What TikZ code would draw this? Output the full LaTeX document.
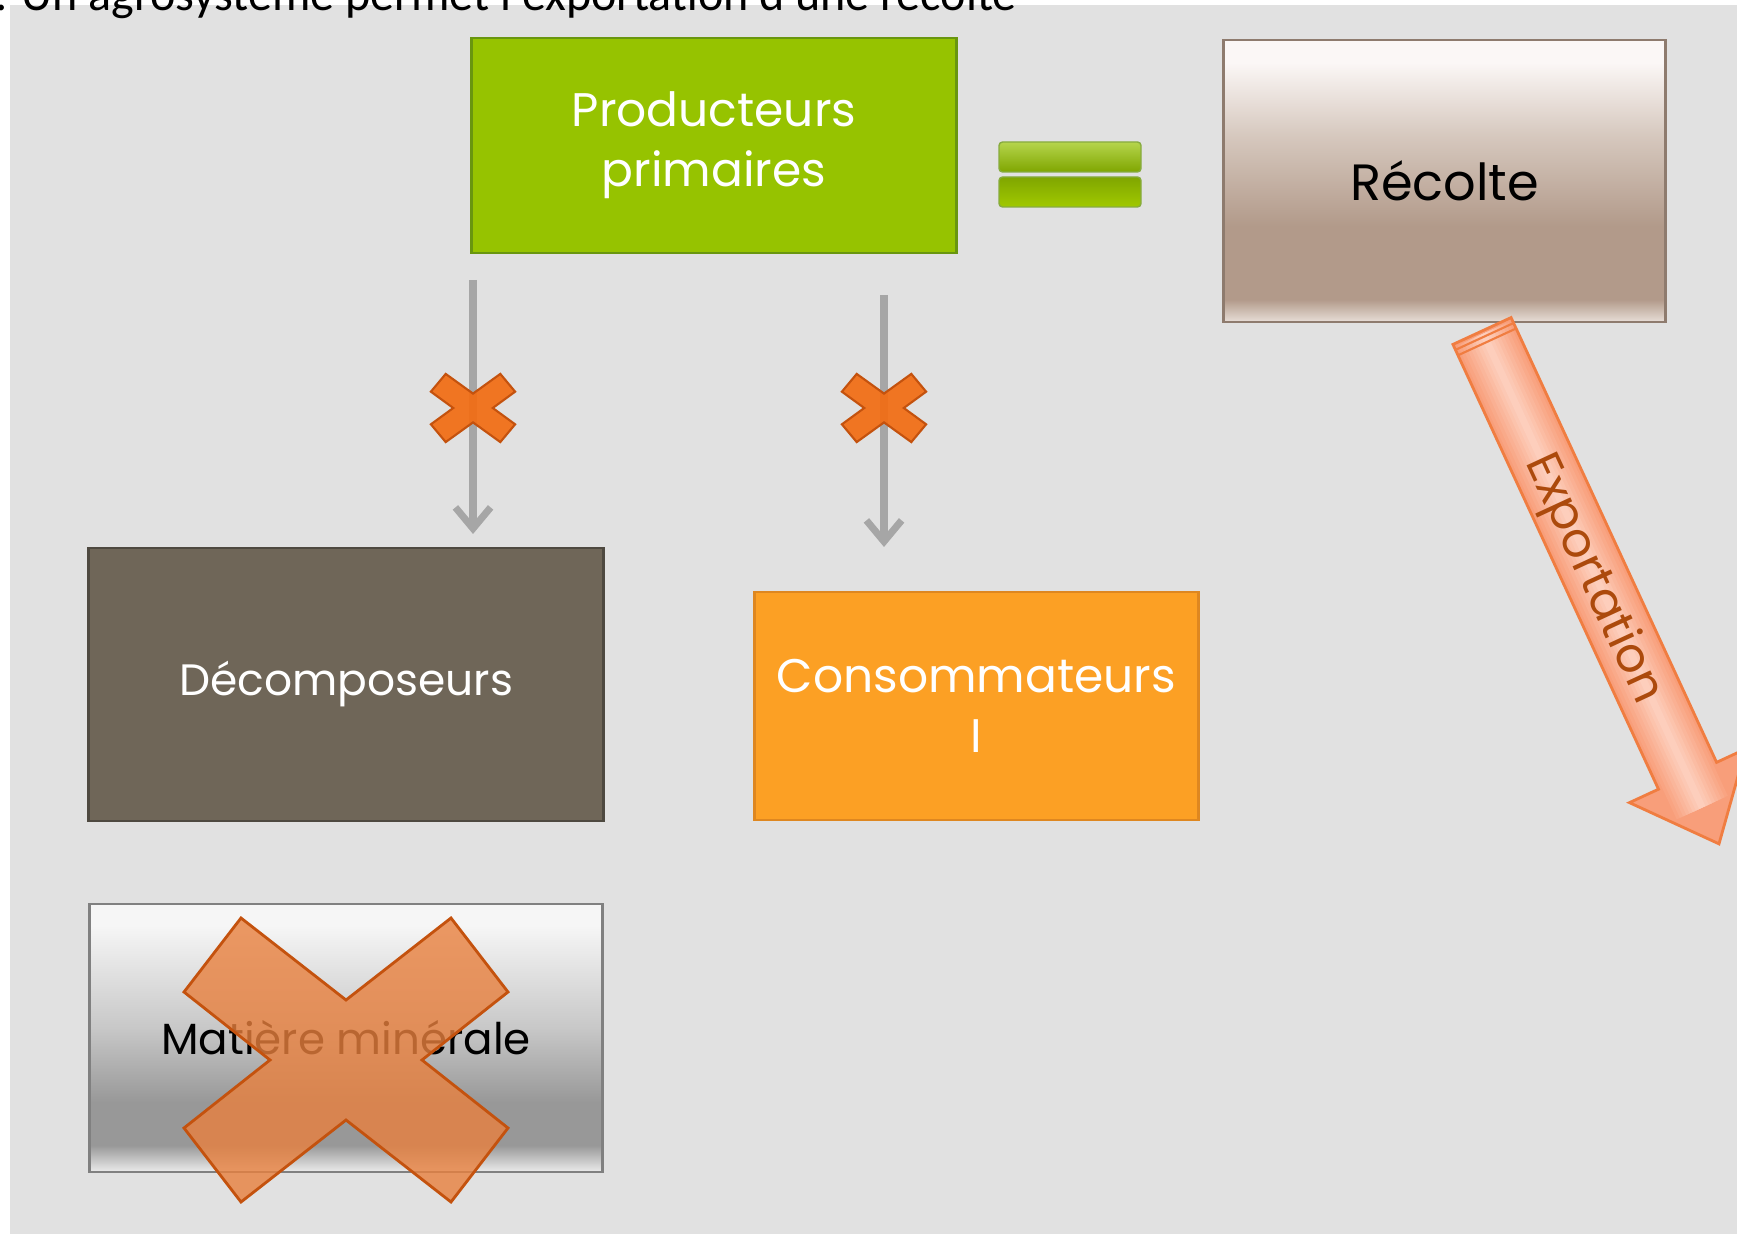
\documentclass[tikz,border=0pt]{standalone}
\usepackage{fontspec}
\setmainfont{Poppins}
\newfontfamily\titrefont{Carlito}
\usetikzlibrary{arrows.meta,positioning}

\definecolor{fondgris}{RGB}{225,225,225}
\definecolor{vertprod}{RGB}{150,195,0}
\definecolor{vertbord}{RGB}{105,150,15}
\definecolor{brundec}{RGB}{111,102,88}
\definecolor{brunbord}{RGB}{78,73,64}
\definecolor{orcons}{RGB}{252,160,36}
\definecolor{orbord}{RGB}{222,135,32}
\definecolor{grisfleche}{RGB}{166,166,166}
\definecolor{croixor}{RGB}{242,108,18}
\definecolor{croixbord}{RGB}{196,82,14}
\definecolor{grandcroix}{RGB}{232,128,62}
\definecolor{saumon}{RGB}{248,158,122}
\definecolor{saumonclair}{RGB}{253,206,188}
\definecolor{saumonbord}{RGB}{240,125,65}
\definecolor{textexport}{RGB}{172,74,12}
% couleurs des degrades
\definecolor{recbas}{RGB}{232,222,216}
\definecolor{recfonce}{RGB}{178,154,138}
\definecolor{recmoyen}{RGB}{214,200,190}
\definecolor{rechaut}{RGB}{251,247,246}
\definecolor{minbas}{RGB}{236,236,236}
\definecolor{minfonce}{RGB}{152,152,152}
\definecolor{minmoyen}{RGB}{200,200,200}
\definecolor{minhaut}{RGB}{246,246,246}

\pgfdeclareverticalshading{degrecolte}{100bp}{color(0bp)=(recbas); color(25bp)=(recbas); color(29bp)=(recfonce); color(42bp)=(recfonce); color(58bp)=(recmoyen); color(71bp)=(rechaut); color(100bp)=(rechaut)}
\pgfdeclareverticalshading{degmineral}{100bp}{color(0bp)=(minbas); color(25bp)=(minbas); color(30bp)=(minfonce); color(38bp)=(minfonce); color(52bp)=(minmoyen); color(71bp)=(minhaut); color(100bp)=(minhaut)}

\tikzset{
  boite/.style={rectangle, inner sep=0pt, align=center, line width=0.8pt,
    font=\fontsize{13.4}{17}\selectfont},
  fleche/.style={draw=grisfleche, line width=2pt, -{Straight Barb[length=6pt,width=10pt]}},
  petitex/.style={fill=croixor, draw=croixbord, line width=0.6pt, fill opacity=0.92},
  grandex/.style={fill=grandcroix, draw=croixbord, line width=0.8pt, fill opacity=0.8},
}

\begin{document}
\begin{tikzpicture}[x=0.01cm, y=-0.01cm]
  \useasboundingbox (0,0) rectangle (1737,1234);

  % Fond de la diapositive
  \fill[white] (0,0) rectangle (1737,1234);
  \fill[fondgris] (10,5) rectangle (1737,1234);

  % Titre coupe en haut
  \node[anchor=base west, inner sep=0pt, font=\titrefont\fontsize{13.66}{16}\selectfont] (titre) at (-30,11)
    {1. Un agrosystème permet l'exportation d'une récolte};

  % Les cases
  \node[boite, fill=vertprod, draw=vertbord, text=white, minimum width=4.84cm, minimum height=2.15cm] (prod) at (714,145.5)
    {Producteurs\\primaires};
  \node[boite, shading=degrecolte, draw=recfonce!80!black, minimum width=4.41cm, minimum height=2.82cm,
    font=\fontsize{14.5}{17}\selectfont] (recolte) at (1444.5,181) {Récolte};
  \node[boite, fill=brundec, draw=brunbord, text=white, minimum width=5.14cm, minimum height=2.73cm,
    font=\fontsize{12.5}{17}\selectfont] (decomp) at (346,684.5) {Décomposeurs};
  \node[boite, fill=orcons, draw=orbord, text=white, minimum width=4.43cm, minimum height=2.28cm] (conso) at (976.5,706)
    {Consommateurs\\I};
  \node[boite, shading=degmineral, draw=gray, minimum width=5.12cm, minimum height=2.68cm,
    font=\fontsize{12.4}{17}\selectfont] (matiere) at (346,1038) {Matière minérale};

  % Signe egal
  \shade[top color=vertprod!70!white, bottom color=vertprod!85!black, draw=vertbord!80, rounded corners=1pt]
    (999,142) rectangle (1141,172);
  \shade[top color=vertprod!85!black, bottom color=vertprod!90!yellow, draw=vertbord!80, rounded corners=1pt]
    (999,177) rectangle (1141,207);

  % Fleches grises barrees
  \coordinate (f1a) at (473,280);
  \coordinate (f1b) at (473,534);
  \coordinate (f2a) at (884,295);
  \coordinate (f2b) at (884,547);
  \draw[fleche] (f1a) -- (f1b);
  \draw[fleche] (f2a) -- (f2b);

  % Croix (deux petites, une grande)
  \foreach \cx/\cy/\sx/\sy/\st in {473/408/0.26/0.24/petitex, 884/408/0.26/0.24/petitex, 346/1060/1/1/grandex} {
    \draw[\st, shift={(\cx,\cy)}, xscale=\sx, yscale=\sy]
      (-105,-142) -- (0,-60) -- (105,-142) -- (162,-68) -- (76,0) -- (162,68) --
      (105,142) -- (0,60) -- (-105,142) -- (-162,68) -- (-76,0) -- (-162,-68) -- cycle;
  }

  % Fleche d'exportation
  \begin{scope}[shift={(1482,331)}, rotate=-65.2]
    \fill[saumon] (0,-32) -- (490,-32) -- (490,-64) -- (565,0) -- (490,64) -- (490,32) -- (0,32) -- cycle;
    % bande claire au centre
    \foreach \w/\m in {16/12, 14/25, 12/38, 10/50, 8/63, 6/76, 4/88, 2/100} {
      \draw[saumonclair!\m!saumon, line width=\w pt] (3,0) -- (525,0);
    }
    \draw[saumonbord, line width=0.8pt]
      (0,-32) -- (490,-32) -- (490,-64) -- (565,0) -- (490,64) -- (490,32) -- (0,32) -- cycle;
    \foreach \t in {6,12} {
      \draw[saumonbord, line width=0.6pt] (\t,-31) -- (\t,31);
    }
    \node[rotate=-65.2, text=textexport, font=\fontsize{13.6}{16}\selectfont] (export) at (272,4) {Exportation};
  \end{scope}
\end{tikzpicture}
\end{document}
